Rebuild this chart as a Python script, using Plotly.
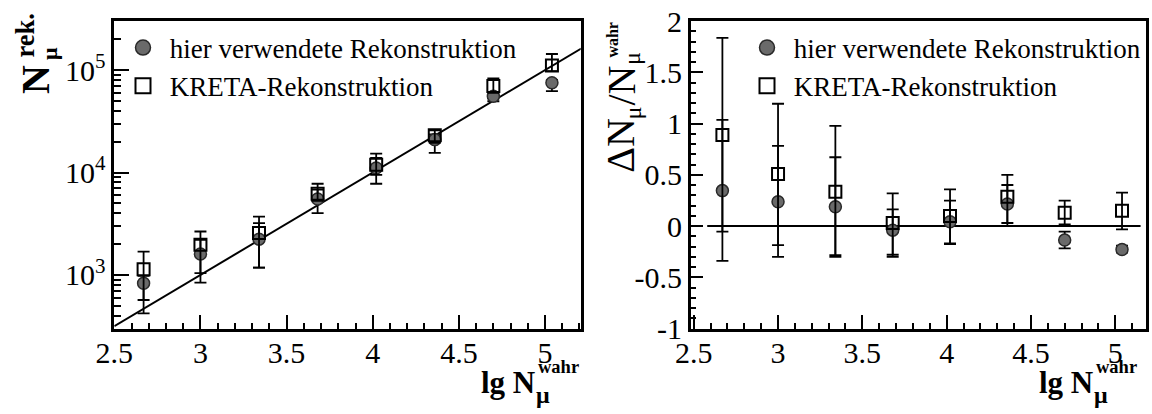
import numpy as np
import plotly.graph_objects as go

W, H = 1152, 414


def px(v):
    return v / W


def py(v):
    return 1 - v / H


FONT = "Liberation Serif"
NBSP = "\u00a0"

# bin centres in lg N_mu^wahr (shared by both panels)
lg_n_wahr = [2.67, 3.00, 3.34, 3.68, 4.02, 4.36, 4.70, 5.04]

# left panel: reconstructed muon number
n_rek_hier = [830, 1604, 2235, 5510, 11060, 20950, 55600, 75200]
n_rek_hier_hi = [980, 2200, 3206, 6800, 13870, 23500, 61000, 80000]
n_rek_hier_lo = [422, 841, 1178, 4020, 7770, 15520, 49600, 62200]

n_rek_kreta = [1138, 1967, 2560, 6210, 11910, 23050, 70100, 111000]
n_rek_kreta_hi = [1690, 2655, 3715, 7770, 15280, 25800, 83000, 143500]
n_rek_kreta_lo = [569, 1040, 1178, 5300, 9500, 19500, 60000, 97600]

# right panel: relative deviation
dev_hier = [0.346, 0.238, 0.189, -0.04, 0.042, 0.215, -0.137, -0.228]
dev_hier_hi = [1.037, 0.783, 0.672, 0.163, 0.248, 0.401, -0.055, -0.19]
dev_hier_lo = [-0.339, -0.300, -0.284, -0.28, -0.176, 0.0, -0.218, -0.26]

dev_kreta = [0.890, 0.509, 0.336, 0.03, 0.098, 0.287, 0.130, 0.150]
dev_kreta_hi = [1.837, 1.194, 0.978, 0.320, 0.359, 0.499, 0.248, 0.326]
dev_kreta_lo = [-0.055, -0.186, -0.30, -0.30, -0.17, 0.03, 0.016, -0.033]

# reference lines
diag_x = [2.5, 5.21]
diag_y = [10 ** v for v in diag_x]
zero_x = [2.58, 5.15]
zero_y = [0, 0]

# tick labels
log_tickvals = [1e3, 1e4, 1e5]
log_ticktext = ["10<sup>3</sup>", "10<sup>4</sup>", "10<sup>5</sup>"]
dev_tickvals = [-1, -0.5, 0, 0.5, 1, 1.5, 2]
dev_ticktext = ["-1", "-0.5", "0", "0.5", "1", "1.5", "2"]

label_hier = "hier verwendete Rekonstruktion"
label_kreta = "KRETA-Rekonstruktion"

CIRCLE = dict(symbol="circle", size=12, color="#6a6a6a",
              line=dict(color="#2a2a2a", width=1.5))
SQUARE = dict(symbol="square-open", size=12, color="black",
              line=dict(color="black", width=2))
LEG_CIRCLE = dict(CIRCLE, size=15)
LEG_SQUARE = dict(SQUARE, size=15)


def err(vals, hi, lo):
    return dict(type="data", symmetric=False,
                array=[h - v for v, h in zip(vals, hi)],
                arrayminus=[v - l for v, l in zip(vals, lo)],
                color="black", thickness=1.8, width=6)


fig = go.Figure()

# left panel
fig.add_trace(go.Scatter(x=diag_x, y=diag_y, mode="lines",
                         line=dict(color="black", width=2),
                         showlegend=False, xaxis="x", yaxis="y"))
fig.add_trace(go.Scatter(x=lg_n_wahr, y=n_rek_hier, mode="markers",
                         marker=CIRCLE,
                         error_y=err(n_rek_hier, n_rek_hier_hi, n_rek_hier_lo),
                         showlegend=False, xaxis="x", yaxis="y"))
fig.add_trace(go.Scatter(x=lg_n_wahr, y=n_rek_kreta, mode="markers",
                         marker=SQUARE,
                         error_y=err(n_rek_kreta, n_rek_kreta_hi, n_rek_kreta_lo),
                         showlegend=False, xaxis="x", yaxis="y"))
fig.add_trace(go.Scatter(x=[None], y=[None], mode="markers", marker=LEG_CIRCLE,
                         name=NBSP + label_hier, legend="legend",
                         xaxis="x", yaxis="y"))
fig.add_trace(go.Scatter(x=[None], y=[None], mode="markers", marker=LEG_SQUARE,
                         name=NBSP + label_kreta, legend="legend",
                         xaxis="x", yaxis="y"))

# right panel
fig.add_trace(go.Scatter(x=zero_x, y=zero_y, mode="lines",
                         line=dict(color="black", width=2),
                         showlegend=False, xaxis="x2", yaxis="y2"))
fig.add_trace(go.Scatter(x=lg_n_wahr, y=dev_hier, mode="markers",
                         marker=CIRCLE,
                         error_y=err(dev_hier, dev_hier_hi, dev_hier_lo),
                         showlegend=False, xaxis="x2", yaxis="y2"))
fig.add_trace(go.Scatter(x=lg_n_wahr, y=dev_kreta, mode="markers",
                         marker=SQUARE,
                         error_y=err(dev_kreta, dev_kreta_hi, dev_kreta_lo),
                         showlegend=False, xaxis="x2", yaxis="y2"))
fig.add_trace(go.Scatter(x=[None], y=[None], mode="markers", marker=LEG_CIRCLE,
                         name=NBSP + label_hier, legend="legend2",
                         xaxis="x2", yaxis="y2"))
fig.add_trace(go.Scatter(x=[None], y=[None], mode="markers", marker=LEG_SQUARE,
                         name=NBSP + label_kreta, legend="legend2",
                         xaxis="x2", yaxis="y2"))

frame = dict(showline=True, linewidth=2.5, linecolor="black", mirror=True,
             showgrid=False, zeroline=False, ticks="inside", tickwidth=2,
             tickcolor="black", automargin=False,
             tickfont=dict(family=FONT, size=30, color="black"))

xcommon = dict(frame, dtick=0.5, tick0=2.5, ticklen=14, ticklabelstandoff=-4,
               minor=dict(dtick=0.1, tick0=2.5, ticks="inside", ticklen=6,
                          tickwidth=1.5, tickcolor="black", showgrid=False))

minor_log = [m * 10 ** e for e in range(2, 6) for m in range(2, 10)
             if 300 <= m * 10 ** e <= 3e5]

ydom = [py(328.5), py(21.2)]

legend_style = dict(xanchor="left", yanchor="top", bgcolor="rgba(0,0,0,0)",
                    borderwidth=0, font=dict(family=FONT, size=27, color="black"))

fig.update_layout(
    template="none",
    width=W, height=H,
    margin=dict(l=0, r=0, t=0, b=0, autoexpand=False),
    paper_bgcolor="white", plot_bgcolor="white",
    font=dict(family=FONT, color="black"),
    xaxis=dict(xcommon, domain=[px(114.3), px(580.7)], range=[2.5, 5.207],
               anchor="y"),
    yaxis=dict(frame, type="log", domain=ydom,
               range=[np.log10(300), np.log10(3e5)],
               tickmode="array", tickvals=log_tickvals, ticktext=log_ticktext,
               ticklen=15, anchor="x",
               minor=dict(tickmode="array", tickvals=minor_log, ticks="inside",
                          ticklen=7, tickwidth=1.5, tickcolor="black",
                          showgrid=False)),
    xaxis2=dict(xcommon, domain=[px(690.7), px(1146.3)], range=[2.482, 5.184],
                anchor="y2"),
    yaxis2=dict(frame, domain=ydom, range=[-1, 2], tickmode="array",
                tickvals=dev_tickvals, ticktext=dev_ticktext, ticklen=13,
                anchor="x2",
                minor=dict(dtick=0.1, tick0=0, ticks="inside", ticklen=6,
                           tickwidth=1.5, tickcolor="black", showgrid=False)),
    legend=dict(legend_style, x=px(123), y=py(23.5)),
    legend2=dict(legend_style, x=px(747), y=py(23.5)),
)


def label(text, x, y, size, angle=0, bold=False):
    if bold:
        text = "<b>" + text + "</b>"
    fig.add_annotation(text=text, x=px(x), y=py(y), xref="paper", yref="paper",
                       xanchor="center", yanchor="middle", showarrow=False,
                       textangle=angle,
                       font=dict(family=FONT, size=size, color="black"))


# y title, left panel: N_mu^rek.
label("N", 36, 80, 40, -90, True)
label("μ", 49.6, 53.5, 22, -90, True)
label("rek.", 24, 35.5, 26.5, -90, True)

# y title, right panel: Delta N_mu / N_mu^wahr
label("ΔN", 620.5, 145.3, 40, -90)
label("μ", 632, 113.5, 24, -90)
label("/N", 620.5, 86, 40, -90)
label("μ", 632, 59, 24, -90)
label("wahr", 612.6, 40, 16, -90, True)

# x titles: lg N_mu^wahr
for shift in (0, -558):
    label("lg N", 1065.5 + shift, 382.5, 31, 0, True)
    label("μ", 1101 + shift, 395, 24, 0, True)
    label("wahr", 1116.5 + shift, 366.8, 18.5, 0, True)

fig.write_html("out.html")
